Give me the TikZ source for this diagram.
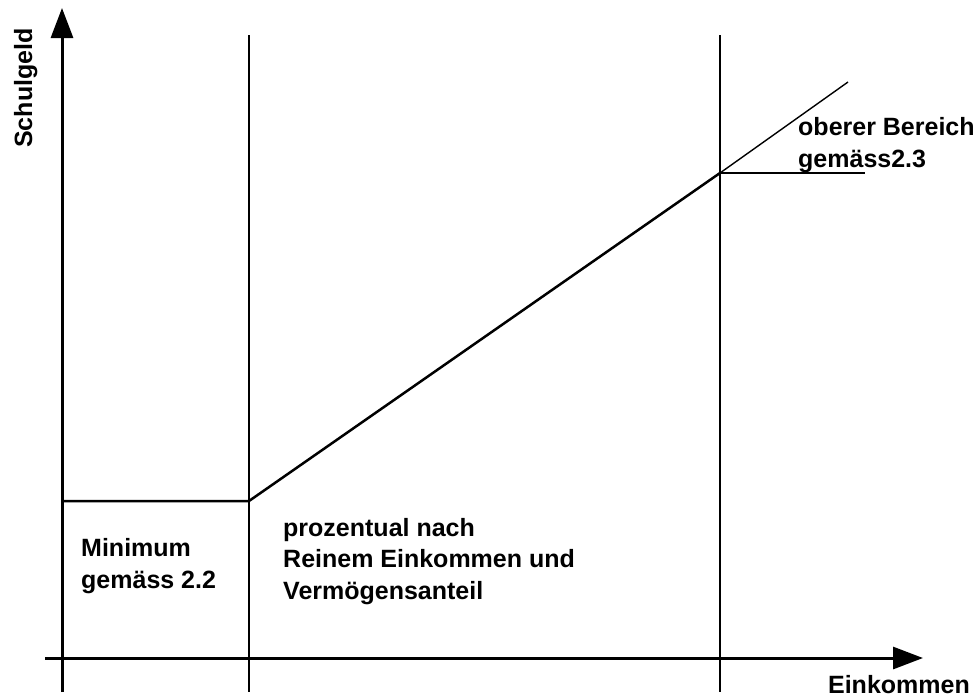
\documentclass[tikz,border=0pt]{standalone}
\usepackage{fontspec}
\setmainfont{Liberation Sans}
\usetikzlibrary{arrows.meta}
\begin{document}
\begin{tikzpicture}[x=1pt,y=-1pt,
  axis/.style={line width=3pt,-{Triangle[length=30pt,width=22pt]}},
  rule/.style={line width=2.5pt},
  thinline/.style={line width=1.4pt},
  lbl/.style={font=\fontsize{25}{31.5}\selectfont\bfseries, inner sep=0pt, align=left}]
\useasboundingbox (0,0) rectangle (977,697);
% coordinates
\coordinate (ybot) at (62,692);
\coordinate (ytop) at (62,8);
\coordinate (xl) at (45,658);
\coordinate (xr) at (923,658);
\coordinate (v1t) at (249,35);
\coordinate (v1b) at (249,692);
\coordinate (v2t) at (720,35);
\coordinate (v2b) at (720,692);
\coordinate (m0) at (62,501);
\coordinate (m1) at (249,501);
\coordinate (k) at (720,173);
\coordinate (e1) at (848,82);
\coordinate (e2) at (865,173);
% axes
\draw[axis] (ybot) -- (ytop);
\draw[axis] (xl) -- (xr);
% verticals
\draw[rule] (v1t) -- (v1b);
\draw[rule] (v2t) -- (v2b);
% curve
\draw[rule, line join=round] (m0) -- (m1) -- (k);
\draw[thinline] (k) -- (e1);
\draw[thinline] (k) -- (e2);
% labels
\node[lbl, rotate=90, anchor=base] (sg) at (32,88) {Schulgeld};
\node[lbl, anchor=base east] (ek) at (970,693) {Einkommen};
\node[lbl, anchor=base west] (ob) at (798,167) {oberer Bereich\\gemäss2.3};
\node[lbl, anchor=base west] (mn) at (81,588) {Minimum\\gemäss 2.2};
\node[lbl, anchor=base west] (pz) at (283,599) {prozentual nach\\Reinem Einkommen und\\Vermögensanteil};
\end{tikzpicture}
\end{document}
